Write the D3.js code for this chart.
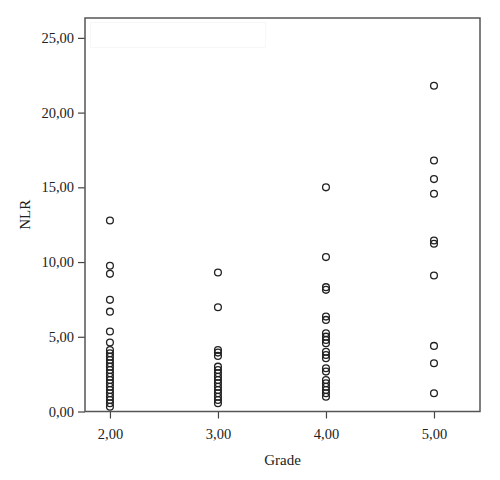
<!DOCTYPE html>
<html>
<head>
<meta charset="utf-8">
<script src="https://cdn.jsdelivr.net/npm/d3@7"></script>
<style>
  body { margin: 0; background: #fff; }
  text { font-family: "Liberation Serif", "DejaVu Serif", serif; fill: #222; }
</style>
</head>
<body>
<div id="chart"></div>
<script>
/* CONSTANTS AND GLOBALS */
const width = 500,
  height = 480,
  margin = { top: 18, bottom: 68.5, left: 85, right: 20 };

/* DATA: NLR values read per grade */
const grade2 = [12.78, 9.75, 9.21, 7.47, 6.68, 5.35, 4.61, 4.12, 3.9, 3.67, 3.45, 3.23, 3.0, 2.78,
  2.56, 2.33, 2.11, 1.89, 1.66, 1.44, 1.22, 0.99, 0.77, 0.55, 0.32];
const grade3 = [9.3, 6.98, 4.12, 3.94, 3.72, 3.0, 2.78, 2.56, 2.33, 2.11, 1.89, 1.66, 1.44,
  1.22, 0.99, 0.77, 0.55];
const grade4 = [15.0, 10.33, 8.32, 8.14, 6.35, 6.13, 5.24, 5.01, 4.79, 4.57, 4.0, 3.78, 3.56,
  2.89, 2.67, 2.11, 1.89, 1.66, 1.44, 1.22, 0.99];
const grade5 = [21.8, 16.8, 15.55, 14.57, 11.44, 11.22, 9.1, 4.39, 3.23, 1.22];

const grades = [2, 3, 4, 5];
const xTicks = [2, 3, 4, 5];
const yTicks = [0, 5, 10, 15, 20, 25];

const points = [];
[grade2, grade3, grade4, grade5].forEach((vals, i) => {
  vals.forEach(v => points.push({ grade: grades[i], nlr: v }));
});

const fmt = d => d3.format(".2f")(d).replace(".", ",");

/* SVG */
const svg = d3.select("#chart")
  .append("svg")
  .attr("width", width)
  .attr("height", height);

// SCALES
const xScale = d3.scaleLinear()
  .domain([1.769, 5.426])
  .range([margin.left, width - margin.right]);

const yScale = d3.scaleLinear()
  .domain([0, 26.33])
  .range([height - margin.bottom, margin.top]);

// faint legend box left over at the top
svg.append("rect")
  .attr("x", 90.5)
  .attr("y", 22.5)
  .attr("width", 175)
  .attr("height", 25)
  .attr("fill", "none")
  .attr("stroke", "#f7f7f7");

// AXES
const xAxis = d3.axisBottom(xScale).tickValues(xTicks).tickFormat(fmt).tickSize(7).tickSizeOuter(0);
const yAxis = d3.axisLeft(yScale).tickValues(yTicks).tickFormat(fmt).tickSize(7).tickSizeOuter(0);

const xAxisGroup = svg.append("g")
  .attr("transform", `translate(0, ${height - margin.bottom})`)
  .call(xAxis);

const yAxisGroup = svg.append("g")
  .attr("transform", `translate(${margin.left}, 0)`)
  .call(yAxis);

[xAxisGroup, yAxisGroup].forEach(g => {
  g.select(".domain").remove();
  g.selectAll(".tick line").attr("stroke", "#444").attr("stroke-width", 1.2);
  g.selectAll(".tick text")
    .attr("font-size", 14.5)
    .attr("fill", "#222");
});
xAxisGroup.selectAll(".tick text").attr("dy", "1.2em");
yAxisGroup.selectAll(".tick text").attr("x", -11);

// frame
svg.append("rect")
  .attr("x", margin.left)
  .attr("y", margin.top)
  .attr("width", width - margin.left - margin.right)
  .attr("height", height - margin.top - margin.bottom)
  .attr("fill", "none")
  .attr("stroke", "#555")
  .attr("stroke-width", 1.5);

// axis titles
svg.append("text")
  .attr("x", (margin.left + width - margin.right) / 2)
  .attr("y", 465)
  .attr("text-anchor", "middle")
  .attr("font-size", 15)
  .text("Grade");

svg.append("text")
  .attr("transform", `translate(30, ${(margin.top + height - margin.bottom) / 2}) rotate(-90)`)
  .attr("text-anchor", "middle")
  .attr("font-size", 15)
  .text("NLR");

// POINTS
svg.selectAll("circle.point")
  .data(points)
  .join("circle")
  .attr("class", "point")
  .attr("cx", d => xScale(d.grade))
  .attr("cy", d => yScale(d.nlr))
  .attr("r", 3.4)
  .attr("fill", "none")
  .attr("stroke", "#222")
  .attr("stroke-width", 1.3);
</script>
</body>
</html>
